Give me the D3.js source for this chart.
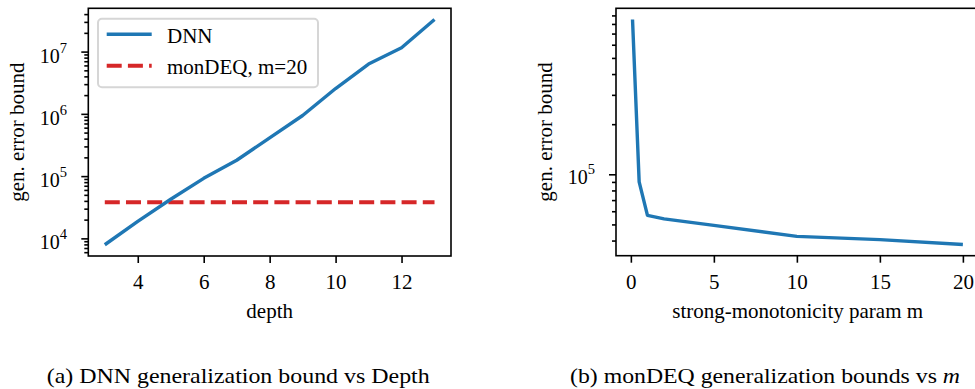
<!DOCTYPE html>
<html>
<head>
<meta charset="utf-8">
<script src="https://cdn.jsdelivr.net/npm/d3@7"></script>
<style>
    body { margin: 0; background: #fff; }
    svg { display: block; font-family: "Liberation Serif", "Times New Roman", serif; }
</style>
</head>
<body>
<svg id="chart" width="975" height="389"></svg>
<script>
// ---- data ----
const depths = [3, 4, 5, 6, 7, 8, 9, 10, 11, 12, 13];
const dnnBound = [7.9e3, 1.87e4, 4.25e4, 9.2e4, 1.8e5, 4.1e5, 9.4e5, 2.55e6, 6.3e6, 1.15e7, 3.27e7];
const mondeqBoundM20 = 3.8e4;

const mValues = [0.1, 0.5, 1, 2, 5, 10, 15, 20];
const mondeqBound = [8.5e5, 9.0e4, 5.66e4, 5.4e4, 4.93e4, 4.24e4, 4.05e4, 3.79e4];

const depthTicks = [4, 6, 8, 10, 12];
const mTicks = [0, 5, 10, 15, 20];
const legendLabels = ['DNN', 'monDEQ, m=20'];

// ---- layout ----
const COLORS = { blue: '#1f77b4', red: '#d62728' };
const FONT = 21;
const TICK_MAJOR = 7;
const TICK_MINOR = 4;
const SPINE_W = 1.6;

const boxA = { left: 88.3, right: 451, top: 8.3, bottom: 256 };
const boxB = { left: 616, right: 979.4, top: 8.3, bottom: 255.7 };

const svg = d3.select('#chart');

function padLinear(values) {
    const [lo, hi] = d3.extent(values);
    const r = hi - lo;
    return [lo - 0.05 * r, hi + 0.05 * r];
}

function padLog(values) {
    const [lo, hi] = d3.extent(values).map(Math.log10);
    const r = hi - lo;
    return [Math.pow(10, lo - 0.05 * r), Math.pow(10, hi + 0.05 * r)];
}

function logTicks(y) {
    const [d0, d1] = y.domain();
    const majors = [];
    const minors = [];
    for (let e = Math.floor(Math.log10(d0)); e <= Math.ceil(Math.log10(d1)); e++) {
        for (let k = 1; k <= 9; k++) {
            const v = k * Math.pow(10, e);
            if (v < d0 || v > d1) continue;
            (k === 1 ? majors : minors).push(v);
        }
    }
    return { majors, minors };
}

function drawXAxis(box, x, ticks) {
    const g = svg.append('g')
        .attr('transform', `translate(0,${box.bottom})`)
        .call(d3.axisBottom(x).tickValues(ticks).tickSize(TICK_MAJOR).tickPadding(11.4).tickFormat(d3.format('d')));
    g.select('.domain').remove();
    g.selectAll('line').attr('stroke', '#000').attr('stroke-width', SPINE_W);
    g.selectAll('text')
        .attr('fill', '#000')
        .style('font-family', '"Liberation Serif", "Times New Roman", serif')
        .style('font-size', `${FONT}px`);
}

function drawLogYAxis(box, y, labelEnd, labelDy) {
    const { majors, minors } = logTicks(y);
    const gMaj = svg.append('g')
        .attr('transform', `translate(${box.left},0)`)
        .call(d3.axisLeft(y).tickValues(majors).tickSize(TICK_MAJOR).tickFormat(() => ''));
    const gMin = svg.append('g')
        .attr('transform', `translate(${box.left},0)`)
        .call(d3.axisLeft(y).tickValues(minors).tickSize(TICK_MINOR).tickFormat(() => ''));
    [gMaj, gMin].forEach((g) => {
        g.select('.domain').remove();
        g.selectAll('line').attr('stroke', '#000').attr('stroke-width', SPINE_W);
    });

    majors.forEach((v) => {
        const t = svg.append('text')
            .attr('x', labelEnd)
            .attr('y', y(v) + labelDy)
            .attr('text-anchor', 'end')
            .style('font-size', '20px');
        t.append('tspan').text('10');
        t.append('tspan')
            .attr('dy', -10)
            .style('font-size', '14.5px')
            .text(Math.round(Math.log10(v)));
    });
}

function drawFrame(box) {
    svg.append('rect')
        .attr('x', box.left)
        .attr('y', box.top)
        .attr('width', box.right - box.left)
        .attr('height', box.bottom - box.top)
        .attr('fill', 'none')
        .attr('stroke', '#000')
        .attr('stroke-width', SPINE_W);
}

function drawYLabel(xBaseline, box, text) {
    const cy = (box.top + box.bottom) / 2;
    svg.append('text')
        .attr('transform', `translate(${xBaseline},${cy}) rotate(-90)`)
        .attr('text-anchor', 'middle')
        .style('font-size', `${FONT}px`)
        .text(text);
}

function drawXLabel(box, yBaseline, text) {
    svg.append('text')
        .attr('x', (box.left + box.right) / 2)
        .attr('y', yBaseline)
        .attr('text-anchor', 'middle')
        .style('font-size', `${FONT}px`)
        .text(text);
}

// ---- (a) DNN bound vs depth ----
const xA = d3.scaleLinear().domain(padLinear(depths)).range([boxA.left, boxA.right]);
const yA = d3.scaleLog().domain(padLog(dnnBound)).range([boxA.bottom, boxA.top]);

const lineA = d3.line()
    .x((d, i) => xA(depths[i]))
    .y((d) => yA(d));

svg.append('line')
    .attr('x1', xA(depths[0]))
    .attr('x2', xA(depths[depths.length - 1]))
    .attr('y1', yA(mondeqBoundM20))
    .attr('y2', yA(mondeqBoundM20))
    .attr('stroke', COLORS.red)
    .attr('stroke-width', 4)
    .attr('stroke-dasharray', '15,6.2');

svg.append('path')
    .datum(dnnBound)
    .attr('d', lineA)
    .attr('fill', 'none')
    .attr('stroke', COLORS.blue)
    .attr('stroke-width', 3.4)
    .attr('stroke-linejoin', 'round');

drawFrame(boxA);
drawXAxis(boxA, xA, depthTicks);
drawLogYAxis(boxA, yA, 67, 11);
drawYLabel(24, boxA, 'gen. error bound');
drawXLabel(boxA, 318.3, 'depth');

// legend
const legend = svg.append('g').attr('transform', `translate(${boxA.left + 9.7},${boxA.top + 10.4})`);
legend.append('rect')
    .attr('width', 220)
    .attr('height', 68.6)
    .attr('rx', 4)
    .attr('fill', '#fff')
    .attr('fill-opacity', 0.8)
    .attr('stroke', '#cccccc')
    .attr('stroke-opacity', 0.8)
    .attr('stroke-width', 2);

const legendStyles = [
    { color: COLORS.blue, width: 3.4, dash: null },
    { color: COLORS.red, width: 4, dash: '15,6.2' },
];
legendLabels.forEach((label, i) => {
    const ly = 15.6 + i * 31.4;
    legend.append('line')
        .attr('x1', 8.7)
        .attr('x2', 53.7)
        .attr('y1', ly)
        .attr('y2', ly)
        .attr('stroke', legendStyles[i].color)
        .attr('stroke-width', legendStyles[i].width)
        .attr('stroke-dasharray', legendStyles[i].dash);
    legend.append('text')
        .attr('x', 69)
        .attr('y', ly + 8.6)
        .style('font-size', `${FONT}px`)
        .text(label);
});

// ---- (b) monDEQ bound vs m ----
const xB = d3.scaleLinear().domain(padLinear(mValues)).range([boxB.left, boxB.right]);
const yB = d3.scaleLog().domain(padLog(mondeqBound)).range([boxB.bottom, boxB.top]);

svg.append('path')
    .datum(mondeqBound)
    .attr('d', d3.line().x((d, i) => xB(mValues[i])).y((d) => yB(d)))
    .attr('fill', 'none')
    .attr('stroke', COLORS.blue)
    .attr('stroke-width', 3.4)
    .attr('stroke-linejoin', 'round');

drawFrame(boxB);
drawXAxis(boxB, xB, mTicks);
drawLogYAxis(boxB, yB, 595, 10);
drawYLabel(552, boxB, 'gen. error bound');
drawXLabel(boxB, 318.3, 'strong-monotonicity param m');

// ---- captions ----
svg.append('text')
    .attr('x', 46.7)
    .attr('y', 383)
    .attr('textLength', 383)
    .attr('lengthAdjust', 'spacingAndGlyphs')
    .style('font-size', '22px')
    .text('(a) DNN generalization bound vs Depth');

const capB = svg.append('text')
    .attr('x', 570)
    .attr('y', 383)
    .attr('textLength', 390)
    .attr('lengthAdjust', 'spacingAndGlyphs')
    .style('font-size', '22px');
capB.append('tspan').text('(b) monDEQ generalization bounds vs ');
capB.append('tspan').style('font-style', 'italic').text('m');
</script>
</body>
</html>
